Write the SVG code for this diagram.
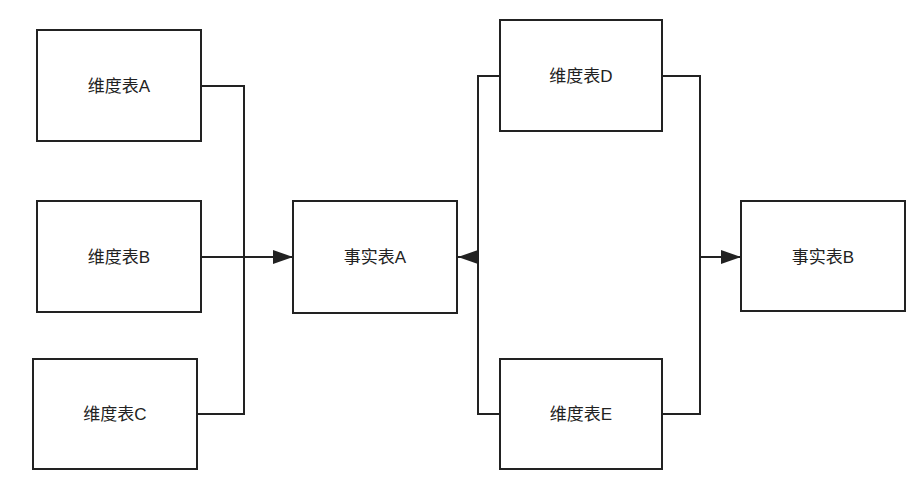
<svg xmlns="http://www.w3.org/2000/svg" width="918" height="477" viewBox="0 0 918 477">
<style>
.n rect{fill:#fff;stroke:#222;stroke-width:2}
.n text{font-family:"Liberation Sans","Noto Sans CJK SC",sans-serif;font-size:17px;fill:#222;text-anchor:middle;dominant-baseline:central}
.c path{fill:none;stroke:#222;stroke-width:2}
</style>
<defs><marker id="ar" viewBox="0 0 10 10" refX="10" refY="5" markerWidth="10" markerHeight="10" markerUnits="userSpaceOnUse" orient="auto"><path d="M0,0L10,5L0,10z" fill="#222"/></marker>
<marker id="ab" viewBox="0 0 10 10" refX="10" refY="5" markerWidth="20" markerHeight="14" markerUnits="userSpaceOnUse" orient="auto" preserveAspectRatio="none"><path d="M0,0L10,5L0,10z" fill="#222"/></marker></defs>
<rect width="918" height="477" fill="#fff"/>
<g class="c">
<path d="M201,86H244V414H197"/>
<path d="M201,257H293" marker-end="url(#ab)"/>
<path d="M500,76H478V414H500"/>
<path d="M478,257H458" marker-end="url(#ab)"/>
<path d="M662,76H700V414H662"/>
<path d="M700,257H741" marker-end="url(#ab)"/>
</g>
<g id="dimA" class="n"><rect x="37" y="30" width="164" height="111"/><text x="119" y="86">维度表A</text></g>
<g id="dimB" class="n"><rect x="37" y="201" width="164" height="111"/><text x="119" y="257">维度表B</text></g>
<g id="dimC" class="n"><rect x="33" y="359" width="164" height="110"/><text x="115" y="414">维度表C</text></g>
<g id="factA" class="n"><rect x="293" y="201" width="164" height="112"/><text x="375" y="257">事实表A</text></g>
<g id="dimD" class="n"><rect x="500" y="20" width="162" height="111"/><text x="581" y="76">维度表D</text></g>
<g id="dimE" class="n"><rect x="500" y="359" width="162" height="110"/><text x="581" y="414">维度表E</text></g>
<g id="factB" class="n"><rect x="741" y="201" width="164" height="110"/><text x="823" y="257">事实表B</text></g>
</svg>
